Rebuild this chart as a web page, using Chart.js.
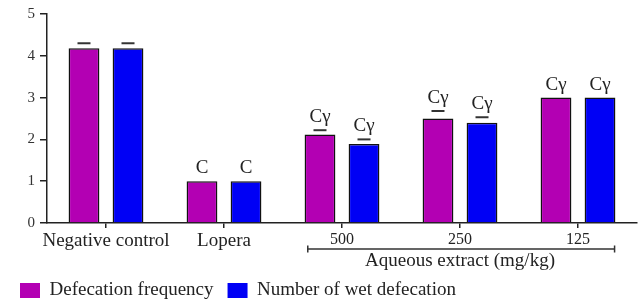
<!DOCTYPE html>
<html>
<head>
<meta charset="utf-8">
<script src="https://cdn.jsdelivr.net/npm/chart.js@4/dist/chart.umd.min.js"></script>
<style>
  html, body { margin: 0; padding: 0; background: #fff; }
</style>
</head>
<body>
<canvas id="barChart" width="638" height="299"></canvas>
<script>
// data
const categories = ["Negative control", "Lopera", "500", "250", "125"];
const seriesNames = ["Defecation frequency", "Number of wet defecation"];
const frequency = [4.18, 1.0, 2.12, 2.5, 3.0];
const wetDefecation = [4.18, 1.0, 1.89, 2.4, 3.0];
const frequencyErr = [0.12, 0, 0.1, 0.18, 0];
const wetErr = [0.12, 0, 0.11, 0.13, 0];
const frequencyMarks = ["", "C", "C\u03b3", "C\u03b3", "C\u03b3"];
const wetMarks = ["", "C", "C\u03b3", "C\u03b3", "C\u03b3"];
const yTicks = [0, 1, 2, 3, 4, 5];
const groupLabel = "Aqueous extract (mg/kg)";

const serif = "'Liberation Serif', 'Times New Roman', serif";
const errors = [frequencyErr, wetErr];
const marks = [frequencyMarks, wetMarks];

// error caps + significance letters above bars
const barNotes = {
  id: "barNotes",
  afterDatasetsDraw(chart) {
    const { ctx, scales: { y } } = chart;
    ctx.save();
    chart.data.datasets.forEach((ds, i) => {
      chart.getDatasetMeta(i).data.forEach((bar, j) => {
        let anchor = bar.y;
        if (errors[i][j] > 0) {
          const capY = y.getPixelForValue(ds.data[j] + errors[i][j]);
          ctx.strokeStyle = "#333";
          ctx.lineWidth = 2;
          ctx.beginPath();
          ctx.moveTo(bar.x - 6.5, capY);
          ctx.lineTo(bar.x + 6.5, capY);
          ctx.stroke();
          anchor = capY;
        }
        if (marks[i][j]) {
          ctx.fillStyle = "#222";
          ctx.font = "19px " + serif;
          ctx.textAlign = "center";
          ctx.textBaseline = "alphabetic";
          ctx.fillText(marks[i][j], bar.x, anchor - 8);
        }
      });
    });
    ctx.restore();
  },
};

// bracket under the three doses
const doseBracket = {
  id: "doseBracket",
  afterLayout(chart) {
    // legend sits lower in the figure than chart.js puts it
    chart.legend.top += 11;
    chart.legend.bottom += 11;
  },
  afterDraw(chart) {
    const { ctx, scales: { x } } = chart;
    const catW = (x.right - x.left) / categories.length;
    const x1 = x.getPixelForValue(2) - 0.29 * catW;
    const x2 = x.getPixelForValue(4) + 0.31 * catW;
    const yLine = x.top + 26;
    ctx.save();
    ctx.strokeStyle = "#333";
    ctx.lineWidth = 1.5;
    ctx.beginPath();
    ctx.moveTo(x1, yLine);
    ctx.lineTo(x2, yLine);
    ctx.moveTo(x1, yLine - 3.5);
    ctx.lineTo(x1, yLine + 3.5);
    ctx.moveTo(x2, yLine - 3.5);
    ctx.lineTo(x2, yLine + 3.5);
    ctx.stroke();
    ctx.fillStyle = "#222";
    ctx.font = "19px " + serif;
    ctx.textAlign = "center";
    ctx.textBaseline = "middle";
    ctx.fillText(groupLabel, x.getPixelForValue(3), yLine + 12);
    ctx.restore();
  },
};

const ctx = document.getElementById("barChart").getContext("2d");
new Chart(ctx, {
  type: "bar",
  data: {
    labels: categories,
    datasets: [
      {
        label: seriesNames[0],
        data: frequency,
        backgroundColor: "#b300b3",
        borderColor: "#111",
        borderWidth: 1.5,
        categoryPercentage: 0.746,
        barPercentage: 0.7,
      },
      {
        label: seriesNames[1],
        data: wetDefecation,
        backgroundColor: "#0000f5",
        borderColor: "#111",
        borderWidth: 1.5,
        categoryPercentage: 0.746,
        barPercentage: 0.7,
      },
    ],
  },
  options: {
    responsive: false,
    animation: false,
    layout: { padding: { top: 14, right: 1, left: 6, bottom: 0 } },
    plugins: {
      tooltip: { enabled: false },
      legend: {
        position: "bottom",
        align: "start",
        labels: {
          boxWidth: 20,
          boxHeight: 15,
          padding: 14,
          color: "#222",
          font: { family: serif, size: 19 },
          generateLabels(chart) {
            return Chart.defaults.plugins.legend.labels
              .generateLabels(chart)
              .map((l) => ({ ...l, lineWidth: 0 }));
          },
        },
      },
    },
    scales: {
      x: {
        afterFit(scale) { scale.height = 33; },
        grid: {
          offset: false,
          drawOnChartArea: false,
          tickLength: 5,
          color: "#222",
          lineWidth: 1.5,
        },
        border: { color: "#222", width: 1.5 },
        ticks: {
          padding: 2,
          autoSkip: false,
          color: "#222",
          maxRotation: 0,
          font: (c) => ({ family: serif, size: c.index >= 2 ? 16 : 19 }),
        },
      },
      y: {
        min: yTicks[0],
        max: yTicks[yTicks.length - 1],
        afterFit(scale) { scale.width = 41; },
        afterBuildTicks(scale) { scale.ticks = yTicks.map((v) => ({ value: v })); },
        grid: {
          drawOnChartArea: false,
          tickLength: 7,
          color: "#222",
          lineWidth: 1.5,
        },
        border: { color: "#222", width: 1.5 },
        ticks: {
          padding: 5,
          color: "#333",
          font: { family: serif, size: 15 },
        },
      },
    },
  },
  plugins: [barNotes, doseBracket],
});
</script>
</body>
</html>
